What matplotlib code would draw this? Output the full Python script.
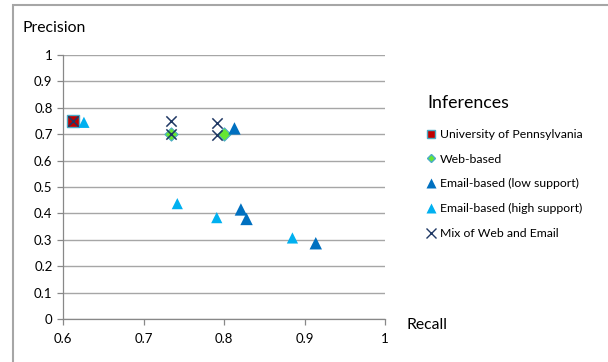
import matplotlib
matplotlib.use("Agg")
import matplotlib.pyplot as plt
from matplotlib.patches import Rectangle
from matplotlib.lines import Line2D

plt.rcParams['font.family'] = ['Lato', 'DejaVu Sans']

penn_x = [0.612]
penn_y = [0.75]
web_x = [0.734, 0.800]
web_y = [0.70, 0.70]
low_x = [0.813, 0.821, 0.828, 0.914]
low_y = [0.722, 0.415, 0.379, 0.287]
high_x = [0.626, 0.742, 0.791, 0.885]
high_y = [0.745, 0.437, 0.384, 0.307]
mix_x = [0.612, 0.734, 0.734, 0.791, 0.791]
mix_y = [0.75, 0.75, 0.70, 0.742, 0.697]

series_names = ["University of Pennsylvania", "Web-based", "Email-based (low support)",
                "Email-based (high support)", "Mix of Web and Email"]
x_ticks = [0.6, 0.7, 0.8, 0.9, 1.0]
x_ticklabels = ["0.6", "0.7", "0.8", "0.9", "1"]
y_ticks = [0, 0.1, 0.2, 0.3, 0.4, 0.5, 0.6, 0.7, 0.8, 0.9, 1.0]
y_ticklabels = ["0", "0.1", "0.2", "0.3", "0.4", "0.5", "0.6", "0.7", "0.8", "0.9", "1"]

W, H = 608, 362
fig = plt.figure(figsize=(W / 100, H / 100), dpi=100)

# outer chart border
fig.patches.append(Rectangle((13 / W, -0.05), 1.2, 1 - 5 / H + 0.05, transform=fig.transFigure,
                             fill=False, edgecolor='#A6A6A6', linewidth=1.5, zorder=0))

ax = fig.add_axes([63 / W, 1 - 319 / H, (385 - 63) / W, (319 - 55) / H])
ax.set_xlim(0.6, 1.0)
ax.set_ylim(0, 1.0)
ax.set_xticks(x_ticks)
ax.set_xticklabels(x_ticklabels)
ax.set_yticks(y_ticks)
ax.set_yticklabels(y_ticklabels)
ax.yaxis.grid(True, color='#A6A6A6', linewidth=1.0)
ax.set_axisbelow(True)
for s in ['top', 'right']:
    ax.spines[s].set_visible(False)
for s in ['left', 'bottom']:
    ax.spines[s].set_color('#888888')
    ax.spines[s].set_linewidth(0.9)
ax.tick_params(axis='both', colors='#888888', labelcolor='black', labelsize=9.5, length=4, width=0.9)
ax.tick_params(axis='x', pad=6)

ax.scatter(penn_x, penn_y, marker='s', s=80, color='#C00000', edgecolors='#4BACC6', linewidths=1.0, zorder=3)
ax.scatter(web_x, web_y, marker='D', s=45, color='#66E632', edgecolors='#4BACC6', linewidths=0.8, zorder=3)
ax.scatter(low_x, low_y, marker='^', s=80, color='#0070C0', edgecolors='none', zorder=3)
ax.scatter(high_x, high_y, marker='^', s=65, color='#00B0F0', edgecolors='none', zorder=3)
ax.scatter(mix_x, mix_y, marker='x', s=55, color='#1F3864', linewidths=1.1, zorder=4)

fig.text(23 / W, 1 - 28 / H, "Precision", fontsize=11.3, va='center', ha='left')
fig.text(407 / W, 1 - 325 / H, "Recall", fontsize=11.3, va='center', ha='left')

# legend
fig.text(427 / W, 1 - 103 / H, "Inferences", fontsize=12.8, va='center', ha='left')
handles = [
    Line2D([], [], linestyle='none', marker='s', markersize=6, color='#C00000', markeredgecolor='#4BACC6'),
    Line2D([], [], linestyle='none', marker='D', markersize=4.5, color='#66E632', markeredgecolor='#4BACC6'),
    Line2D([], [], linestyle='none', marker='^', markersize=7, color='#0070C0', markeredgecolor='none'),
    Line2D([], [], linestyle='none', marker='^', markersize=7, color='#00B0F0', markeredgecolor='none'),
    Line2D([], [], linestyle='none', marker='x', markersize=7, color='#1F3864', markeredgewidth=1.0),
]
fig.legend(handles, series_names, loc='upper left', bbox_to_anchor=(426 / W, 1 - 129 / H),
           frameon=False, fontsize=8.8, handlelength=0.8, handletextpad=0.35,
           labelspacing=1.12, borderpad=0, borderaxespad=0)

fig.savefig("out.png", dpi=100)
